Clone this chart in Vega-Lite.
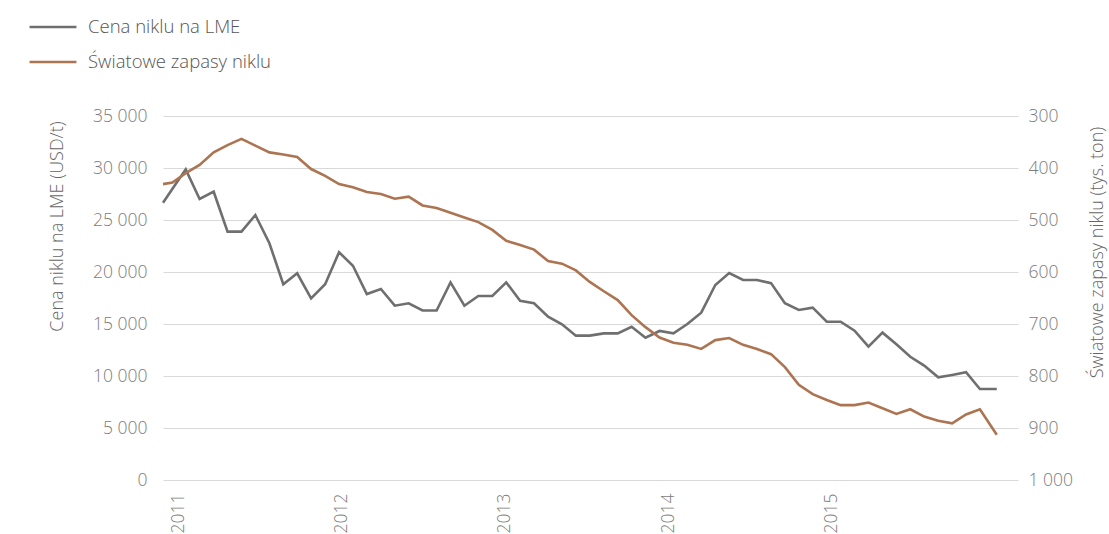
{
  "$schema": "https://vega.github.io/schema/vega-lite/v6.json",
  "autosize": {"type": "none"},
  "width": 855,
  "height": 364,
  "padding": {"left": 163, "top": 116, "right": 91, "bottom": 54},
  "background": "white",
  "config": {
    "font": "Open Sans",
    "view": {"stroke": null},
    "axis": {"labelFont": "Open Sans", "titleFont": "Open Sans", "labelFontSize": 17.5, "titleFontSize": 18, "labelColor": "#7c7c7c", "titleColor": "#666666", "labelFontWeight": 300, "titleFontWeight": 300, "ticks": false, "domain": false, "titleLimit": 400},
    "legend": {"labelFont": "Open Sans", "labelFontSize": 18.5, "labelColor": "#555555", "labelFontWeight": 300, "labelLimit": 400}
  },
  "data": {"values": [
    {"t": 2010.908, "price": 26650, "stock": 431},
    {"t": 2010.966, "price": 28000, "stock": 428},
    {"t": 2011.047, "price": 29870, "stock": 410},
    {"t": 2011.132, "price": 27020, "stock": 394},
    {"t": 2011.218, "price": 27720, "stock": 370},
    {"t": 2011.303, "price": 23880, "stock": 356},
    {"t": 2011.388, "price": 23880, "stock": 344},
    {"t": 2011.473, "price": 25480, "stock": 357},
    {"t": 2011.559, "price": 22760, "stock": 370},
    {"t": 2011.644, "price": 18820, "stock": 374},
    {"t": 2011.729, "price": 19880, "stock": 379},
    {"t": 2011.814, "price": 17470, "stock": 402},
    {"t": 2011.9, "price": 18820, "stock": 415},
    {"t": 2011.985, "price": 21900, "stock": 431},
    {"t": 2012.07, "price": 20600, "stock": 437},
    {"t": 2012.155, "price": 17880, "stock": 446},
    {"t": 2012.241, "price": 18370, "stock": 450},
    {"t": 2012.326, "price": 16760, "stock": 459},
    {"t": 2012.411, "price": 16990, "stock": 455},
    {"t": 2012.496, "price": 16300, "stock": 472},
    {"t": 2012.582, "price": 16300, "stock": 477},
    {"t": 2012.667, "price": 19000, "stock": 486},
    {"t": 2012.752, "price": 16760, "stock": 495},
    {"t": 2012.837, "price": 17690, "stock": 504},
    {"t": 2012.923, "price": 17690, "stock": 519},
    {"t": 2013.008, "price": 19000, "stock": 540},
    {"t": 2013.093, "price": 17240, "stock": 548},
    {"t": 2013.178, "price": 16990, "stock": 557},
    {"t": 2013.264, "price": 15700, "stock": 579},
    {"t": 2013.349, "price": 14970, "stock": 584},
    {"t": 2013.434, "price": 13880, "stock": 597},
    {"t": 2013.519, "price": 13880, "stock": 619},
    {"t": 2013.605, "price": 14100, "stock": 637},
    {"t": 2013.69, "price": 14100, "stock": 654},
    {"t": 2013.775, "price": 14740, "stock": 683},
    {"t": 2013.86, "price": 13680, "stock": 706},
    {"t": 2013.946, "price": 14330, "stock": 726},
    {"t": 2014.031, "price": 14100, "stock": 736},
    {"t": 2014.116, "price": 15000, "stock": 740},
    {"t": 2014.201, "price": 16090, "stock": 748},
    {"t": 2014.287, "price": 18750, "stock": 731},
    {"t": 2014.372, "price": 19900, "stock": 727},
    {"t": 2014.457, "price": 19230, "stock": 740},
    {"t": 2014.542, "price": 19230, "stock": 748},
    {"t": 2014.628, "price": 18930, "stock": 758},
    {"t": 2014.713, "price": 17000, "stock": 783},
    {"t": 2014.798, "price": 16350, "stock": 817},
    {"t": 2014.883, "price": 16570, "stock": 835},
    {"t": 2014.969, "price": 15220, "stock": 846},
    {"t": 2015.054, "price": 15220, "stock": 856},
    {"t": 2015.139, "price": 14360, "stock": 856},
    {"t": 2015.224, "price": 12820, "stock": 851},
    {"t": 2015.31, "price": 14170, "stock": 862},
    {"t": 2015.395, "price": 13050, "stock": 873},
    {"t": 2015.48, "price": 11850, "stock": 864},
    {"t": 2015.565, "price": 11000, "stock": 878},
    {"t": 2015.651, "price": 9870, "stock": 886},
    {"t": 2015.736, "price": 10100, "stock": 891},
    {"t": 2015.821, "price": 10360, "stock": 874},
    {"t": 2015.906, "price": 8750, "stock": 864},
    {"t": 2016.009, "price": 8750, "stock": 913}
  ]},
  "encoding": {
    "x": {
      "field": "t", "type": "quantitative",
      "scale": {"domain": [2010.908, 2016.139], "nice": false, "zero": false},
      "axis": {"title": null, "values": [2011, 2012, 2013, 2014, 2015], "format": "d", "labelAngle": -90, "labelAlign": "right", "labelBaseline": "middle", "labelPadding": 13, "grid": false, "labelFlush": false}
    }
  },
  "layer": [
    {
      "mark": {"type": "line", "strokeWidth": 2.6, "strokeJoin": "miter"},
      "encoding": {
        "y": {
          "field": "price", "type": "quantitative",
          "scale": {"domain": [0, 35000], "nice": false},
          "axis": {
            "orient": "left", "title": "Cena niklu na LME (USD/t)",
            "values": [0, 5000, 10000, 15000, 20000, 25000, 30000, 35000],
            "labelExpr": "replace(format(datum.value, ',d'), ',', ' ')",
            "grid": true, "gridColor": "#d9d9d9", "gridWidth": 1,
            "labelPadding": 16,
            "titleAngle": -90, "titleX": -106, "titleY": 110, "titleAlign": "center", "titleBaseline": "middle"
          }
        },
        "color": {"datum": "Cena niklu na LME", "type": "nominal",
          "scale": {"domain": ["Cena niklu na LME", "Światowe zapasy niklu"], "range": ["#6f6f6f", "#ad7451"]},
          "legend": {"title": null, "orient": "none", "legendX": -135, "legendY": -114, "symbolType": "stroke", "symbolSize": 2200, "symbolStrokeWidth": 2.6, "labelOffset": 10, "rowPadding": -2, "direction": "vertical"}
        }
      }
    },
    {
      "mark": {"type": "line", "strokeWidth": 2.6, "strokeJoin": "miter"},
      "encoding": {
        "y": {
          "field": "stock", "type": "quantitative",
          "scale": {"domain": [300, 1000], "nice": false, "reverse": true, "zero": false},
          "axis": {
            "orient": "right", "title": "Światowe zapasy niklu (tys. ton)",
            "values": [300, 400, 500, 600, 700, 800, 900, 1000],
            "labelExpr": "replace(format(datum.value, ',d'), ',', ' ')",
            "grid": false, "labelPadding": 10,
            "titleAngle": -90, "titleX": 79, "titleY": 136, "titleAlign": "center", "titleBaseline": "middle"
          }
        },
        "color": {"datum": "Światowe zapasy niklu", "type": "nominal"}
      }
    }
  ],
  "resolve": {"scale": {"y": "independent"}}
}
